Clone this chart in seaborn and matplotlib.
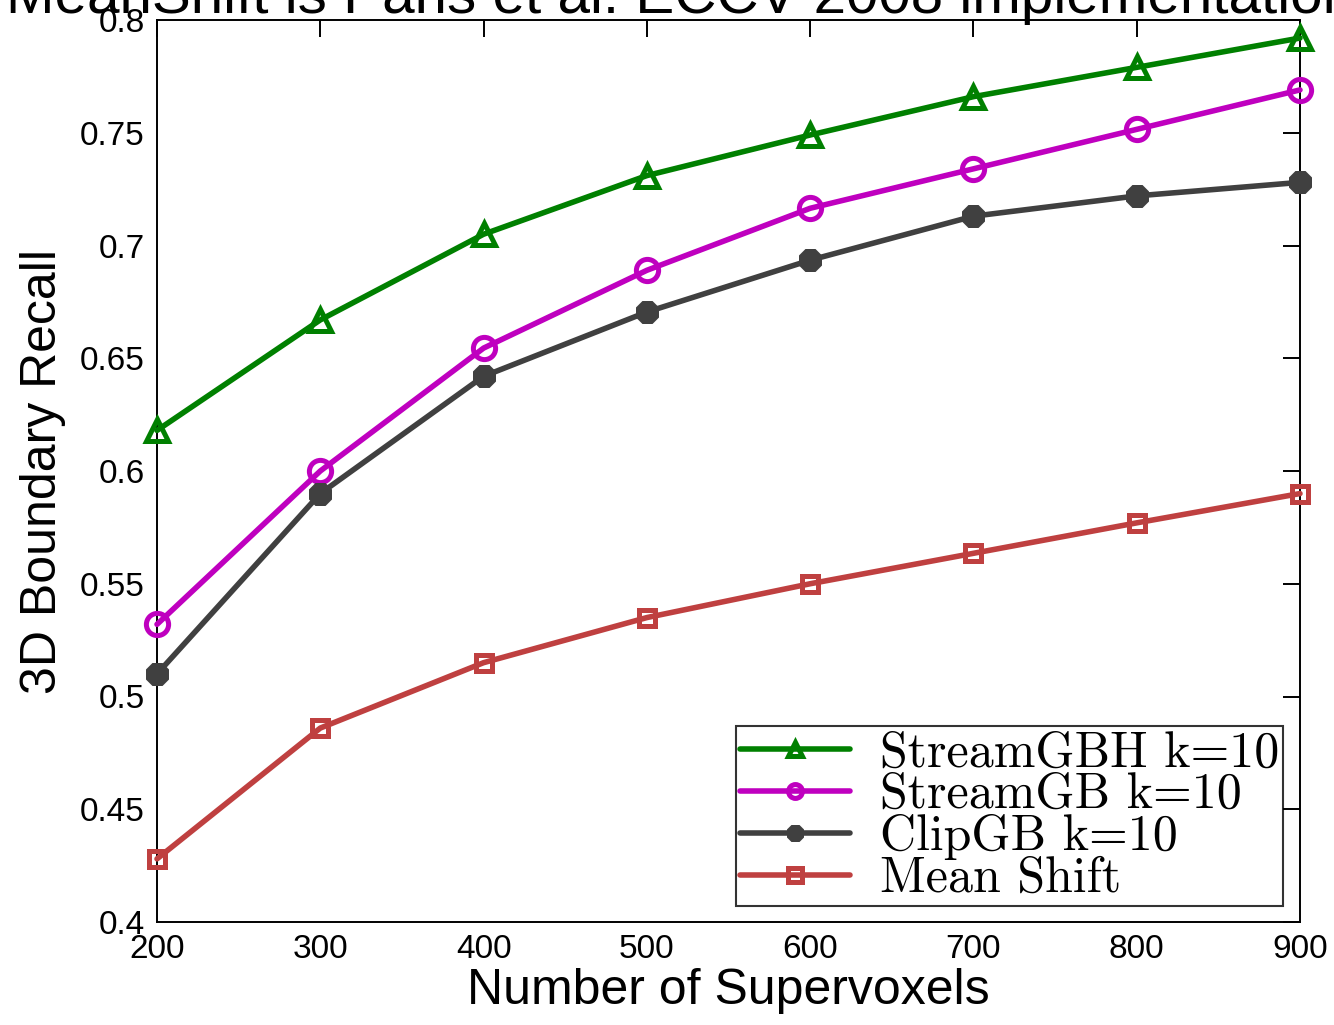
import matplotlib
matplotlib.use("Agg")
import matplotlib.pyplot as plt
import pandas as pd
import seaborn as sns
import numpy as np

# data
supervoxels = [200, 300, 400, 500, 600, 700, 800, 900]
stream_gbh = [0.618, 0.667, 0.705, 0.731, 0.749, 0.766, 0.779, 0.792]
stream_gb = [0.532, 0.600, 0.6545, 0.689, 0.7165, 0.734, 0.7515, 0.769]
clip_gb = [0.510, 0.590, 0.642, 0.6705, 0.6935, 0.713, 0.722, 0.728]
mean_shift = [0.428, 0.486, 0.515, 0.535, 0.550, 0.5635, 0.577, 0.590]

labels = ["StreamGBH k=10", "StreamGB k=10", "ClipGB k=10", "Mean Shift"]
y_ticks = [0.4, 0.45, 0.5, 0.55, 0.6, 0.65, 0.7, 0.75, 0.8]
y_tick_labels = ["0.4", "0.45", "0.5", "0.55", "0.6", "0.65", "0.7", "0.75", "0.8"]

sns.set_style("white")
plt.rcParams["font.family"] = ["Liberation Sans", "DejaVu Sans"]
plt.rcParams["text.color"] = "black"
plt.rcParams["axes.labelcolor"] = "black"
plt.rcParams["xtick.color"] = "black"
plt.rcParams["ytick.color"] = "black"

fig = plt.figure(figsize=(13.34, 10.25), dpi=100)
W, H = 1334, 1025
ax = fig.add_axes([157 / W, 1 - 922 / H, (1300 - 157) / W, (922 - 20) / H])

# (values, colour, marker, facecolour, markersize)
series = [
    (stream_gbh, "#008000", "^", "none", 16),
    (stream_gb, "#BF00BF", "o", "none", 16),
    (clip_gb, "#404040", "8", "#404040", 14),
    (mean_shift, "#BF4040", "s", "none", 12),
]
handles = []
for (vals, col, mk, fc, ms), lab in zip(series, labels):
    sns.lineplot(x=supervoxels, y=vals, ax=ax, color=col, marker=mk,
                 markersize=ms, markerfacecolor=fc,
                 markeredgecolor=col, markeredgewidth=3.6, linewidth=4.0,
                 clip_on=False, zorder=3)
    handles.append(ax.lines[-1])

ax.set_xlim(200, 900)
ax.set_ylim(0.4, 0.8)
ax.set_xticks(supervoxels)
ax.set_yticks(y_ticks)
ax.set_yticklabels(y_tick_labels)
ax.tick_params(direction="in", length=12, width=1.4, labelsize=24,
               top=True, right=True)
ax.tick_params(axis="y", pad=9)
ax.tick_params(axis="x", pad=9)
for sp in ax.spines.values():
    sp.set_color("black")
    sp.set_linewidth(1.4)

ax.set_xlabel("Number of Supervoxels", fontsize=36, labelpad=2)
ax.set_ylabel("3D Boundary Recall", fontsize=36, labelpad=10)

# title is cut off at the top edge like in the original export
fig.text(6 / W, 1 - 13 / H, "MeanShift is Paris et al. ECCV 2008 implementation",
         fontsize=42, ha="left", va="baseline")

leg = ax.legend(handles, labels, loc="lower right",
                bbox_to_anchor=(1 - 17 / 1143, 16 / 902),
                prop={"family": "cmr10", "size": 36},
                frameon=True, fancybox=False, edgecolor="black",
                labelspacing=-0.08, borderpad=0.08, handlelength=2.2,
                handletextpad=0.6, borderaxespad=0)
leg.get_frame().set_linewidth(1.5)
for h in leg.legend_handles:
    h.set_markersize(10)
    h.set_markeredgewidth(3.6)

fig.savefig("out.png", dpi=100)
